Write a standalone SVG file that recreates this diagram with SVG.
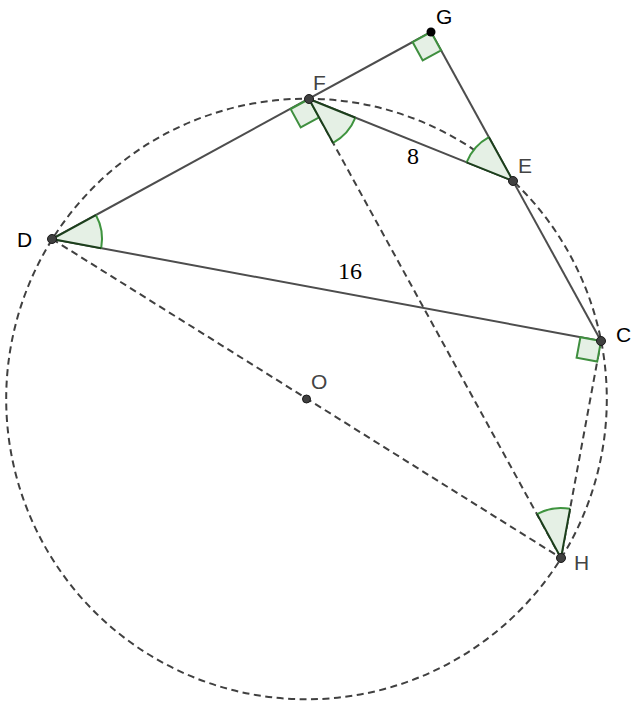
<svg xmlns="http://www.w3.org/2000/svg" width="641" height="707" viewBox="0 0 641 707">
<style>
.dash{fill:none;stroke:#404040;stroke-width:2;stroke-dasharray:7 4.5}
.solid{fill:none;stroke:#4d4d4d;stroke-width:2}
.sec{fill:#e5f0e5;stroke:none}
.arc{fill:none;stroke:#3f943f;stroke-width:2}
.rad{fill:none;stroke:#1c3f1c;stroke-width:2}
.sq{fill:#e5f0e5;stroke:#3f8f3f;stroke-width:2}
.pt{fill:#404040;stroke:#1a1a1a;stroke-width:1}
.lbl{font-family:"Liberation Sans",Arial,sans-serif;font-size:21px}
.num{font-family:"Liberation Serif","DejaVu Serif","Times New Roman",serif;font-size:24px;fill:#000}
</style>
<rect width="641" height="707" fill="#fff"/>
<g id="connectors">
<circle class="dash" cx="306.5" cy="399" r="300.3"/>
<line class="dash" x1="52" y1="239" x2="561" y2="558"/>
<line class="dash" x1="309" y1="99" x2="561" y2="558"/>
<line class="dash" x1="601" y1="341" x2="561" y2="558"/>
<line class="solid" x1="52" y1="239" x2="431" y2="32"/>
<line class="solid" x1="431" y1="32" x2="601" y2="341"/>
<line class="solid" x1="309" y1="99" x2="513" y2="181"/>
<line class="solid" x1="52" y1="239" x2="601" y2="341"/>
</g>
<g id="angles">
<path class="sq" d="M431,32 L412.6,42.1 L422.7,60.5 L441.1,50.4 Z"/>
<path class="sq" d="M309,99 L290.6,109 L300.7,127.4 L319.1,117.4 Z"/>
<path class="sq" d="M601,341 L580.4,337.2 L576.6,357.8 L597.2,361.6 Z"/>
<g id="angle-D"><path class="sec" d="M52,239 L95.9,215.1 A50,50 0 0 1 101.2,248.2 Z"/><path class="arc" d="M95.9,215.1 A50,50 0 0 1 101.2,248.2"/><path class="rad" d="M95.9,215.1 L52,239 L101.2,248.2"/></g>
<g id="angle-F"><path class="sec" d="M309,99 L355.4,117.7 A50,50 0 0 1 333.1,142.9 Z"/><path class="arc" d="M355.4,117.7 A50,50 0 0 1 333.1,142.9"/><path class="rad" d="M355.4,117.7 L309,99 L333.1,142.9"/></g>
<g id="angle-E"><path class="sec" d="M513,181 L466.6,162.4 A50,50 0 0 1 488.9,137.2 Z"/><path class="arc" d="M466.6,162.4 A50,50 0 0 1 488.9,137.2"/><path class="rad" d="M466.6,162.4 L513,181 L488.9,137.2"/></g>
<g id="angle-H"><path class="sec" d="M561,558 L537,514.1 A50,50 0 0 1 570.1,508.8 Z"/><path class="arc" d="M537,514.1 A50,50 0 0 1 570.1,508.8"/><path class="rad" d="M537,514.1 L561,558 L570.1,508.8"/></g>
</g>
<g id="node-G"><circle cx="431" cy="32" r="4.5" fill="#000"/><text class="lbl" x="436" y="24" fill="#000">G</text></g>
<g id="node-F"><circle class="pt" cx="309" cy="99" r="4.5"/><text class="lbl" x="313" y="90" fill="#444">F</text></g>
<g id="node-E"><circle class="pt" cx="513" cy="181" r="4.5"/><text class="lbl" x="518" y="173" fill="#444">E</text></g>
<g id="node-D"><circle class="pt" cx="52" cy="239" r="4.5"/><text class="lbl" x="17" y="247" fill="#000">D</text></g>
<g id="node-C"><circle class="pt" cx="601" cy="341" r="4.5"/><text class="lbl" x="616" y="342" fill="#000">C</text></g>
<g id="node-H"><circle class="pt" cx="561" cy="558" r="4.5"/><text class="lbl" x="574" y="570" fill="#444">H</text></g>
<g id="node-O"><circle class="pt" cx="306.5" cy="399" r="4"/><text class="lbl" x="311" y="389" fill="#444">O</text></g>
<text class="num" x="407" y="164" font-family="Liberation Serif, serif">8</text>
<text class="num" x="338" y="279" font-family="Liberation Serif, serif">16</text>
</svg>
